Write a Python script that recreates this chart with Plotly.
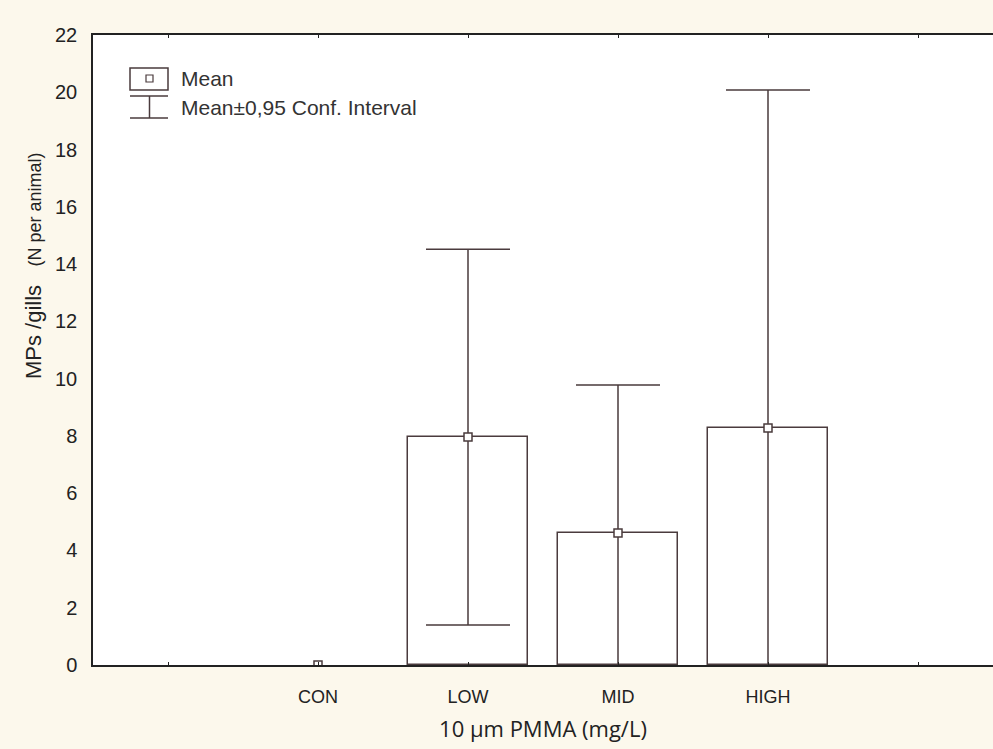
import plotly.graph_objects as go

categories = ["CON", "LOW", "MID", "HIGH"]
means = [0.0, 7.96, 4.61, 8.28]
ci_half = [0.0, 6.56, 5.17, 11.8]
y_ticks = list(range(0, 23, 2))

positions = [i + 1 for i in range(len(categories))]
line_col = "#4a3b3d"
bg = "#fcf8ec"

W, H = 993, 749
L, T, B, R = 93, 35, 84, 0
PW, PH = W - L - R, H - T - B

def px(x):
    return (x - L) / PW

def py(y):
    return (H - B - y) / PH

fig = go.Figure()

bar_x = [p for p, m in zip(positions, means) if m > 0]
bar_y = [m for m in means if m > 0]
fig.add_trace(go.Bar(
    x=bar_x, y=bar_y, width=0.8,
    marker=dict(color="white", line=dict(color=line_col, width=1.5)),
    showlegend=False, hoverinfo="skip",
))

marker_style = dict(symbol="square", size=8, color="white",
                    line=dict(color=line_col, width=1.5))

# groups with a confidence interval
ci_idx = [i for i, c in enumerate(ci_half) if c > 0]
fig.add_trace(go.Scatter(
    x=[positions[i] for i in ci_idx], y=[means[i] for i in ci_idx],
    mode="markers", marker=marker_style,
    error_y=dict(type="data", array=[ci_half[i] for i in ci_idx], symmetric=True,
                 color=line_col, thickness=1.5, width=42),
    showlegend=False,
))
# groups without a confidence interval
no_idx = [i for i, c in enumerate(ci_half) if c <= 0]
fig.add_trace(go.Scatter(
    x=[positions[i] for i in no_idx], y=[means[i] for i in no_idx],
    mode="markers", marker=marker_style, showlegend=False,
))

# manual legend
shapes = [
    dict(type="rect", xref="paper", yref="paper", x0=px(130), x1=px(168),
         y0=py(90), y1=py(68), line=dict(color=line_col, width=1.5), fillcolor="white"),
    dict(type="rect", xref="paper", yref="paper", x0=px(146), x1=px(153),
         y0=py(82), y1=py(75), line=dict(color=line_col, width=1.2), fillcolor="white"),
    dict(type="line", xref="paper", yref="paper", x0=px(130), x1=px(168),
         y0=py(96), y1=py(96), line=dict(color=line_col, width=1.5)),
    dict(type="line", xref="paper", yref="paper", x0=px(149.5), x1=px(149.5),
         y0=py(96), y1=py(118), line=dict(color=line_col, width=1.5)),
    dict(type="line", xref="paper", yref="paper", x0=px(130), x1=px(168),
         y0=py(118), y1=py(118), line=dict(color=line_col, width=1.5)),
]

legend_font = dict(family="Arial", size=21, color="#333")
annotations = [
    dict(text="Mean", xref="paper", yref="paper", x=px(179), y=py(79),
         xanchor="left", yanchor="middle", showarrow=False, font=legend_font),
    dict(text="Mean±0,95 Conf. Interval", xref="paper", yref="paper", x=px(179), y=py(107),
         xanchor="left", yanchor="middle", showarrow=False, font=legend_font),
    dict(text="MPs /gills   <span style='font-size:18px'>(N per animal)</span>",
         xref="paper", yref="paper", x=px(33), y=py(266),
         xanchor="center", yanchor="middle", textangle=-90, showarrow=False,
         font=dict(family="Arial", size=22, color="#222")),
]

fig.update_layout(
    width=W, height=H,
    margin=dict(l=L, r=R, t=T, b=B, pad=0),
    paper_bgcolor=bg, plot_bgcolor="white",
    shapes=shapes, annotations=annotations,
    xaxis=dict(
        range=[-0.5, 5.5], tickvals=[0] + positions + [5],
        ticktext=[""] + categories + [""],
        showgrid=False, zeroline=False,
        showline=True, linecolor="#222", linewidth=2, mirror="ticks",
        ticks="inside", ticklen=3, tickcolor="#222",
        ticklabelstandoff=14,
        tickfont=dict(family="Arial", size=18, color="#222"),
        title=dict(text="10 µm PMMA (mg/L)", standoff=16,
                   font=dict(family="Open Sans", size=22, color="#222")),
    ),
    yaxis=dict(
        range=[0, 22], tickvals=y_ticks,
        showgrid=False, zeroline=False,
        showline=True, linecolor="#222", linewidth=1.5,
        ticks="", ticklabelstandoff=10,
        tickfont=dict(family="Arial", size=20, color="#222"),
    ),
    bargap=0,
)

fig.write_html("out.html")
